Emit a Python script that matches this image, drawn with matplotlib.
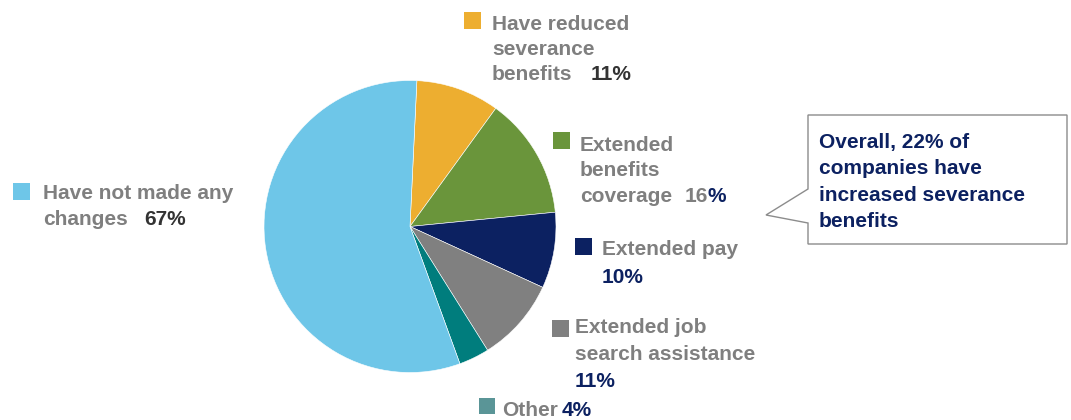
import matplotlib.pyplot as plt
from matplotlib.patches import Rectangle, Polygon

plt.rcParams['font.family'] = ['Liberation Sans', 'DejaVu Sans']

# survey shares (multiple answers allowed, so they add up to more than 100)
categories = ['Have reduced severance benefits', 'Extended benefits coverage',
              'Extended pay', 'Extended job search assistance', 'Other',
              'Have not made any changes']
shares = [11, 16, 10, 11, 4, 67]
colors = ['#EDAE30', '#6A953B', '#0C2161', '#808080', '#007D7D', '#6EC6E8']
pct_labels = ['%d%%' % v for v in shares]
callout = ['Overall, 22% of', 'companies have', 'increased severance', 'benefits']

GRAY = '#7F7F7F'
DARK = '#333333'
NAVY = '#0C2161'
FS = 15

W, H = 1071, 420
fig = plt.figure(figsize=(W / 100, H / 100), dpi=100)
ax = fig.add_axes([0, 0, 1, 1])


def py(y):
    # work in pixel rows counted from the top
    return H - y


ax.pie(shares, colors=colors, startangle=87.3, counterclock=False,
       center=(410, py(226.5)), radius=146,
       wedgeprops=dict(edgecolor='white', linewidth=0.4))

# pie() sets its own limits, so put the pixel frame back afterwards
ax.set_xlim(0, W)
ax.set_ylim(0, H)
ax.set_aspect('equal')
ax.axis('off')


def square(x, y, c, s=17):
    ax.add_patch(Rectangle((x, py(y + s)), s, s, facecolor=c, edgecolor='none'))


def txt(x, y, s, c=GRAY):
    return ax.text(x, py(y), s, color=c, fontsize=FS, fontweight='bold',
                   va='baseline', ha='left')


def after(prev, s, c, gap=0):
    # continue a line right after the previous piece of text
    return ax.annotate(s, xy=(1, 0), xycoords=prev, xytext=(gap, 0),
                       textcoords='offset points', color=c, fontsize=FS,
                       fontweight='bold', va='bottom', ha='left')


# Have reduced severance benefits
square(464, 12, colors[0])
txt(492, 30, 'Have reduced')
txt(492, 55, 'severance')
t = txt(492, 80, 'benefits')
after(t, pct_labels[0], DARK, gap=13)

# Extended benefits coverage
square(553, 132, colors[1])
txt(580, 151, 'Extended')
txt(580, 176, 'benefits')
t = txt(580, 202, 'coverage')
t = after(t, pct_labels[1][:-1], GRAY, gap=9)
after(t, '%', NAVY)

# Extended pay
square(575, 238, colors[2])
txt(602, 255, 'Extended pay')
txt(602, 283, pct_labels[2], NAVY)

# Extended job search assistance
square(552, 320, colors[3])
txt(575, 333, 'Extended job')
txt(575, 360, 'search assistance')
txt(575, 387, pct_labels[3], NAVY)

# Other
square(479, 398, '#5A9597', 16)
t = txt(502, 416, 'Other')
after(t, pct_labels[4], NAVY, gap=3)

# Have not made any changes
square(13, 183, colors[5])
txt(43, 199, 'Have not made any')
t = txt(43, 225, 'changes')
after(t, pct_labels[5], DARK, gap=12)

# callout box with pointer
box = [(808, 115), (1067, 115), (1067, 244), (808, 244),
       (808, 223), (766, 215), (808, 189)]
ax.add_patch(Polygon([(x, py(y)) for x, y in box], closed=True,
                     facecolor='white', edgecolor='#8C8C8C', linewidth=1.0))
for i, line in enumerate(callout):
    txt(819, 148 + 26.3 * i, line, NAVY)

fig.savefig('out.png', dpi=100)
